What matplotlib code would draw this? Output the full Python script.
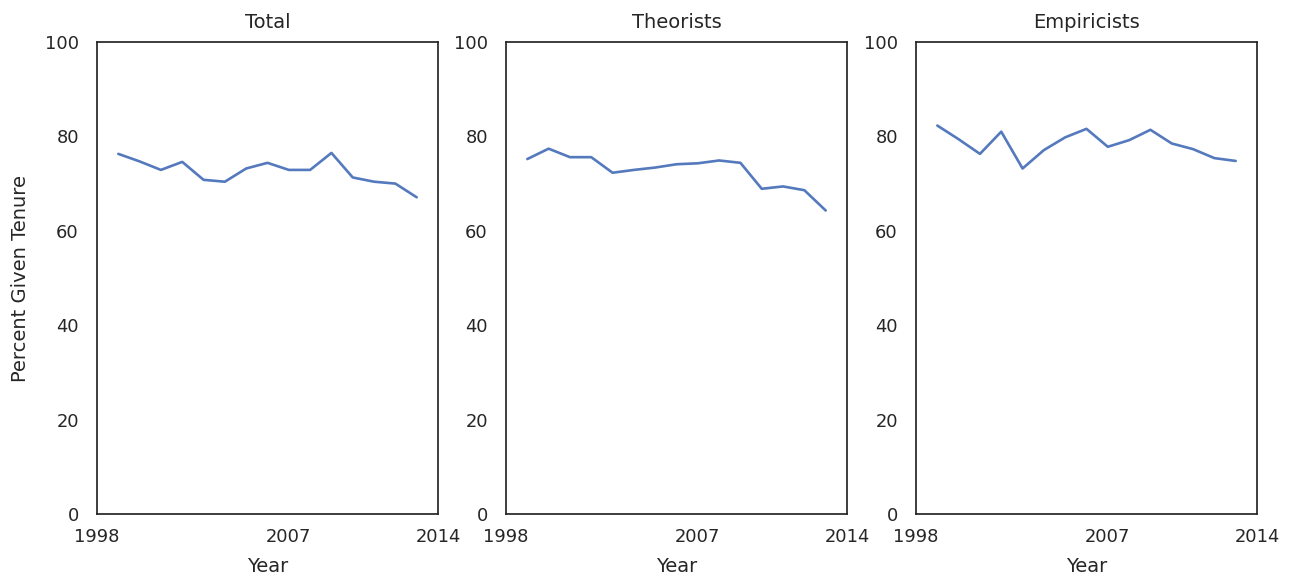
import numpy as np
import matplotlib
matplotlib.use('Agg')
import matplotlib.pyplot as plt
import seaborn as sns

years = list(range(1999, 2014))
total = [76.3, 74.7, 72.9, 74.6, 70.8, 70.4, 73.2, 74.4, 72.9, 72.9, 76.5, 71.3, 70.4, 70.0, 67.1]
theorists = [75.2, 77.4, 75.6, 75.6, 72.3, 72.9, 73.4, 74.1, 74.3, 74.9, 74.4, 68.9, 69.4, 68.6, 64.3]
empiricists = [82.3, 79.4, 76.3, 81.0, 73.2, 77.1, 79.8, 81.6, 77.8, 79.2, 81.4, 78.5, 77.3, 75.4, 74.8]
titles = ['Total', 'Theorists', 'Empiricists']

sns.set_theme(style='white', context='notebook', font_scale=1.17)
plt.rcParams['font.family'] = ['DejaVu Sans']

fig = plt.figure(figsize=(12.98, 5.75), dpi=100)
lefts = [97, 506, 916]
for i, (title, values) in enumerate(zip(titles, [total, theorists, empiricists])):
    ax = fig.add_axes([lefts[i] / 1298, 1 - 514 / 575, 341 / 1298, 472 / 575])
    ax.plot(years, values, color='#5479bd', linewidth=1.9)
    ax.set_xlim(1998, 2014)
    ax.set_ylim(0, 100)
    ax.set_xticks([1998, 2007, 2014])
    ax.set_yticks([0, 20, 40, 60, 80, 100])
    ax.tick_params(axis='x', pad=4)
    ax.tick_params(axis='y', pad=7)
    ax.set_title(title, pad=10)
    ax.set_xlabel('Year', labelpad=8)
    if i == 0:
        ax.set_ylabel('Percent Given Tenure', labelpad=11)

plt.savefig('out.png', dpi=100)
